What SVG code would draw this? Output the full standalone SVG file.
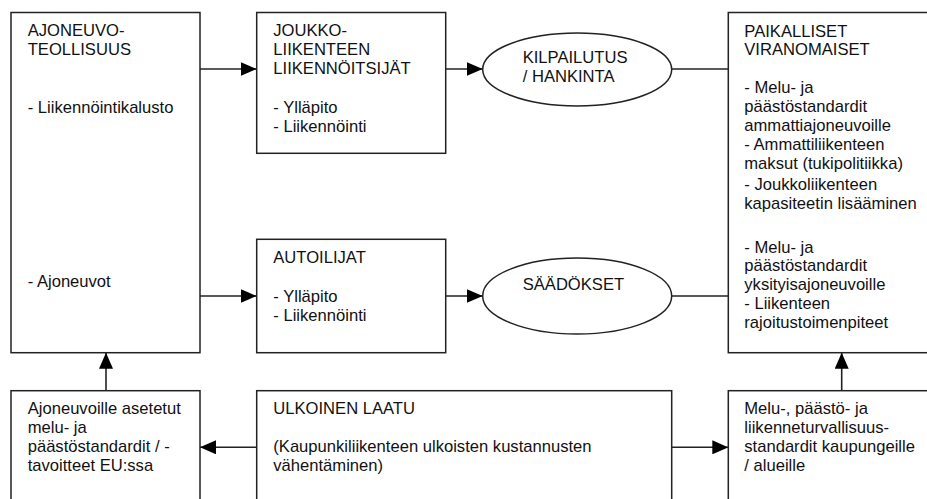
<svg xmlns="http://www.w3.org/2000/svg" width="927" height="499" viewBox="0 0 927 499">
<style>
.box{fill:#fff;stroke:#222;stroke-width:1.5}
.t{font-family:"Liberation Sans",Arial,sans-serif;font-size:16.6px;fill:#111}
.c{stroke:#222;stroke-width:1.6;fill:none}
</style>
<defs>
<marker id="ah" markerUnits="userSpaceOnUse" markerWidth="16" markerHeight="14" refX="16" refY="7" orient="auto">
<path d="M0,0 L16,7 L0,14 z" fill="#000"/>
</marker>
</defs>
<rect width="927" height="499" fill="#fff"/>
<g id="connectors">
<line class="c" x1="200" y1="69" x2="256.7" y2="69" marker-end="url(#ah)"/>
<line class="c" x1="445.7" y1="69" x2="482.7" y2="69" marker-end="url(#ah)"/>
<line class="c" x1="671.7" y1="69" x2="728.3" y2="69"/>
<line class="c" x1="200" y1="296" x2="256.7" y2="296" marker-end="url(#ah)"/>
<line class="c" x1="445.7" y1="296" x2="482.7" y2="296" marker-end="url(#ah)"/>
<line class="c" x1="671.7" y1="296" x2="728.3" y2="296"/>
<line class="c" x1="106" y1="390.7" x2="106" y2="352.7" marker-end="url(#ah)"/>
<line class="c" x1="841.7" y1="390.7" x2="841.7" y2="352.7" marker-end="url(#ah)"/>
<line class="c" x1="256.7" y1="447.3" x2="200" y2="447.3" marker-end="url(#ah)"/>
<line class="c" x1="671.7" y1="447.3" x2="728.3" y2="447.3" marker-end="url(#ah)"/>
</g>
<g id="ajoneuvoteollisuus">
<rect class="box" x="11" y="12.5" width="189" height="340.2"/>
<text class="t" x="27.7" y="35.7">AJONEUVO-</text>
<text class="t" x="27.7" y="55">TEOLLISUUS</text>
<text class="t" x="27.7" y="113.3">- Liikennöintikalusto</text>
<text class="t" x="27.7" y="287.3">- Ajoneuvot</text>
</g>
<g id="joukkoliikenne">
<rect class="box" x="256.7" y="12.5" width="189" height="140.8"/>
<text class="t" x="273.3" y="35.7">JOUKKO-</text>
<text class="t" x="273.3" y="55">LIIKENTEEN</text>
<text class="t" x="273.3" y="74">LIIKENNÖITSIJÄT</text>
<text class="t" x="273.3" y="113.3">- Ylläpito</text>
<text class="t" x="273.3" y="131.7">- Liikennöinti</text>
</g>
<g id="kilpailutus">
<ellipse class="box" cx="577.2" cy="69.5" rx="94.5" ry="36.5"/>
<text class="t" x="522.7" y="63.3">KILPAILUTUS</text>
<text class="t" x="522.7" y="81.7">/ HANKINTA</text>
</g>
<g id="autoilijat">
<rect class="box" x="256.7" y="239.3" width="189" height="113.4"/>
<text class="t" x="273.3" y="262.7">AUTOILIJAT</text>
<text class="t" x="273.3" y="301.7">- Ylläpito</text>
<text class="t" x="273.3" y="320.7">- Liikennöinti</text>
</g>
<g id="saadokset">
<ellipse class="box" cx="577.2" cy="296" rx="94.5" ry="38"/>
<text class="t" x="522.7" y="290">SÄÄDÖKSET</text>
</g>
<g id="paikalliset">
<rect class="box" x="728.3" y="12.5" width="210" height="340.2"/>
<text class="t" x="744.3" y="36.7">PAIKALLISET</text>
<text class="t" x="744.3" y="55.4">VIRANOMAISET</text>
<text class="t" x="744.3" y="93.3">- Melu- ja</text>
<text class="t" x="744.3" y="112">päästöstandardit</text>
<text class="t" x="744.3" y="131">ammattiajoneuvoille</text>
<text class="t" x="744.3" y="150">- Ammattiliikenteen</text>
<text class="t" x="744.3" y="168.5">maksut (tukipolitiikka)</text>
<text class="t" x="744.3" y="190.3">- Joukkoliikenteen</text>
<text class="t" x="744.3" y="209.3">kapasiteetin lisääminen</text>
<text class="t" x="744.3" y="252.7">- Melu- ja</text>
<text class="t" x="744.3" y="271">päästöstandardit</text>
<text class="t" x="744.3" y="290">yksityisajoneuvoille</text>
<text class="t" x="744.3" y="309.3">- Liikenteen</text>
<text class="t" x="744.3" y="328.3">rajoitustoimenpiteet</text>
</g>
<g id="eu-standardit">
<rect class="box" x="11" y="390.7" width="189" height="130"/>
<text class="t" x="27.7" y="414">Ajoneuvoille asetetut</text>
<text class="t" x="27.7" y="432.7">melu- ja</text>
<text class="t" x="27.7" y="451.7">päästöstandardit / -</text>
<text class="t" x="27.7" y="470.7">tavoitteet EU:ssa</text>
</g>
<g id="ulkoinen-laatu">
<rect class="box" x="256.7" y="390.7" width="415" height="130"/>
<text class="t" x="273.3" y="414">ULKOINEN LAATU</text>
<text class="t" x="273.3" y="451.7">(Kaupunkiliikenteen ulkoisten kustannusten</text>
<text class="t" x="273.3" y="470.7">vähentäminen)</text>
</g>
<g id="kaupunkistandardit">
<rect class="box" x="728.3" y="390.7" width="210" height="130"/>
<text class="t" x="744.3" y="414">Melu-, päästö- ja</text>
<text class="t" x="744.3" y="432.7">liikenneturvallisuus-</text>
<text class="t" x="744.3" y="451.7">standardit kaupungeille</text>
<text class="t" x="744.3" y="470.7">/ alueille</text>
</g>
</svg>
